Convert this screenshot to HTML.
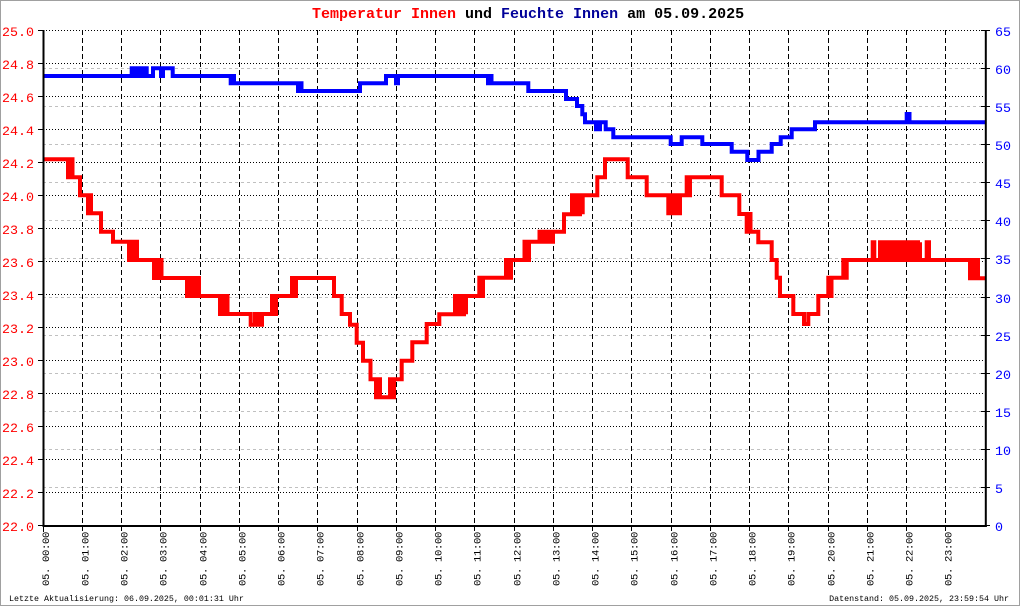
<!DOCTYPE html>
<html>
<head>
<meta charset="utf-8">
<style>
html,body{margin:0;padding:0;background:#fff;}
svg{display:block;}
text{font-family:"Liberation Mono","DejaVu Sans Mono",monospace;}
</style>
</head>
<body>
<svg width="1020" height="606" viewBox="0 0 1020 606" xmlns="http://www.w3.org/2000/svg">
<rect x="0" y="0" width="1020" height="606" fill="#fff"/>
<rect x="0.5" y="0.5" width="1019" height="605" fill="none" stroke="#a0a0a0" stroke-width="1"/>

<!-- humidity gray grid -->
<g stroke="#c0c0c0" stroke-width="1" stroke-dasharray="3,3">
<line x1="43" y1="487.5" x2="985" y2="487.5"/>
<line x1="43" y1="449.5" x2="985" y2="449.5"/>
<line x1="43" y1="411.5" x2="985" y2="411.5"/>
<line x1="43" y1="373.5" x2="985" y2="373.5"/>
<line x1="43" y1="335.5" x2="985" y2="335.5"/>
<line x1="43" y1="297.5" x2="985" y2="297.5"/>
<line x1="43" y1="258.5" x2="985" y2="258.5"/>
<line x1="43" y1="220.5" x2="985" y2="220.5"/>
<line x1="43" y1="182.5" x2="985" y2="182.5"/>
<line x1="43" y1="144.5" x2="985" y2="144.5"/>
<line x1="43" y1="106.5" x2="985" y2="106.5"/>
<line x1="43" y1="68.5" x2="985" y2="68.5"/>
</g>

<!-- temperature black dotted grid -->
<g stroke="#000" stroke-width="1" stroke-dasharray="1,2">
<line x1="43" y1="492.5" x2="985" y2="492.5"/>
<line x1="43" y1="459.5" x2="985" y2="459.5"/>
<line x1="43" y1="426.5" x2="985" y2="426.5"/>
<line x1="43" y1="393.5" x2="985" y2="393.5"/>
<line x1="43" y1="360.5" x2="985" y2="360.5"/>
<line x1="43" y1="327.5" x2="985" y2="327.5"/>
<line x1="43" y1="294.5" x2="985" y2="294.5"/>
<line x1="43" y1="261.5" x2="985" y2="261.5"/>
<line x1="43" y1="228.5" x2="985" y2="228.5"/>
<line x1="43" y1="195.5" x2="985" y2="195.5"/>
<line x1="43" y1="162.5" x2="985" y2="162.5"/>
<line x1="43" y1="129.5" x2="985" y2="129.5"/>
<line x1="43" y1="96.5" x2="985" y2="96.5"/>
<line x1="43" y1="63.5" x2="985" y2="63.5"/>
<line x1="43" y1="30.5" x2="985" y2="30.5"/>
</g>

<!-- hour vertical dashed grid -->
<g stroke="#000" stroke-width="1" stroke-dasharray="5,3">
<line x1="82.5" y1="30" x2="82.5" y2="531"/>
<line x1="121.5" y1="30" x2="121.5" y2="531"/>
<line x1="160.5" y1="30" x2="160.5" y2="531"/>
<line x1="200.5" y1="30" x2="200.5" y2="531"/>
<line x1="239.5" y1="30" x2="239.5" y2="531"/>
<line x1="278.5" y1="30" x2="278.5" y2="531"/>
<line x1="317.5" y1="30" x2="317.5" y2="531"/>
<line x1="357.5" y1="30" x2="357.5" y2="531"/>
<line x1="396.5" y1="30" x2="396.5" y2="531"/>
<line x1="435.5" y1="30" x2="435.5" y2="531"/>
<line x1="474.5" y1="30" x2="474.5" y2="531"/>
<line x1="514.5" y1="30" x2="514.5" y2="531"/>
<line x1="553.5" y1="30" x2="553.5" y2="531"/>
<line x1="592.5" y1="30" x2="592.5" y2="531"/>
<line x1="631.5" y1="30" x2="631.5" y2="531"/>
<line x1="671.5" y1="30" x2="671.5" y2="531"/>
<line x1="710.5" y1="30" x2="710.5" y2="531"/>
<line x1="749.5" y1="30" x2="749.5" y2="531"/>
<line x1="788.5" y1="30" x2="788.5" y2="531"/>
<line x1="828.5" y1="30" x2="828.5" y2="531"/>
<line x1="867.5" y1="30" x2="867.5" y2="531"/>
<line x1="906.5" y1="30" x2="906.5" y2="531"/>
<line x1="945.5" y1="30" x2="945.5" y2="531"/>
</g>

<!-- bottom tick at 0h -->
<line x1="43.5" y1="526" x2="43.5" y2="532" stroke="#000" stroke-width="1"/>

<!-- left ticks -->
<g stroke="#000" stroke-width="1">
<line x1="38" y1="525.5" x2="43" y2="525.5"/>
<line x1="38" y1="492.5" x2="43" y2="492.5"/>
<line x1="38" y1="459.5" x2="43" y2="459.5"/>
<line x1="38" y1="426.5" x2="43" y2="426.5"/>
<line x1="38" y1="393.5" x2="43" y2="393.5"/>
<line x1="38" y1="360.5" x2="43" y2="360.5"/>
<line x1="38" y1="327.5" x2="43" y2="327.5"/>
<line x1="38" y1="294.5" x2="43" y2="294.5"/>
<line x1="38" y1="261.5" x2="43" y2="261.5"/>
<line x1="38" y1="228.5" x2="43" y2="228.5"/>
<line x1="38" y1="195.5" x2="43" y2="195.5"/>
<line x1="38" y1="162.5" x2="43" y2="162.5"/>
<line x1="38" y1="129.5" x2="43" y2="129.5"/>
<line x1="38" y1="96.5" x2="43" y2="96.5"/>
<line x1="38" y1="63.5" x2="43" y2="63.5"/>
<line x1="38" y1="30.5" x2="43" y2="30.5"/>
</g>
<!-- right ticks -->
<g stroke="#000" stroke-width="1">
<line x1="981" y1="525.5" x2="990" y2="525.5"/>
<line x1="981" y1="487.5" x2="990" y2="487.5"/>
<line x1="981" y1="449.5" x2="990" y2="449.5"/>
<line x1="981" y1="411.5" x2="990" y2="411.5"/>
<line x1="981" y1="373.5" x2="990" y2="373.5"/>
<line x1="981" y1="335.5" x2="990" y2="335.5"/>
<line x1="981" y1="297.5" x2="990" y2="297.5"/>
<line x1="981" y1="258.5" x2="990" y2="258.5"/>
<line x1="981" y1="220.5" x2="990" y2="220.5"/>
<line x1="981" y1="182.5" x2="990" y2="182.5"/>
<line x1="981" y1="144.5" x2="990" y2="144.5"/>
<line x1="981" y1="106.5" x2="990" y2="106.5"/>
<line x1="981" y1="68.5" x2="990" y2="68.5"/>
<line x1="981" y1="30.5" x2="990" y2="30.5"/>
</g>

<!-- data: humidity -->
<path fill="none" stroke="#0000ff" stroke-width="4" stroke-linejoin="miter" d="M43,76 H131.7 V68.3 H134 V76 H136 V68.3 H138 V76 H140 V68.3 H142 V76 H144 V68.3 H146.7 V76 H153 V68.3 H161 V76 H163 V68.3 H172.7 V76 H230.7 V83.3 H232.5 V76 H234 V83.3 H298 V91 H300 V83.3 H301.5 V91 H360 V83.3 H386 V76 H396 V83.3 H398 V76 H488 V83.3 H490 V76 H491.5 V83.3 H528.3 V91 H566 V99 H577 V106 H582.3 V114.3 H585 V122.3 H596 V129.3 H600 V122.3 H605.7 V129.3 H613.3 V137.3 H670.7 V144 H681.7 V137.3 H702.3 V144 H731.7 V151.7 H747.3 V160 H758.5 V151.7 H771.7 V144 H780.7 V137.3 H791.7 V129.3 H815 V122.3 H906.7 V114 H909.5 V122.3 H985"/>

<!-- data: temperature -->
<path fill="none" stroke="#ff0000" stroke-width="4" stroke-linejoin="miter" d="M43,159.3 H68 V177.3 H70 V159.3 H72.5 V177.3 H80 V195.3 H88 V213.3 H89.5 V195.3 H91 V213.3 H101 V231.7 H113 V241.7 H129 V260 H131 V241.7 H133 V260 H135 V241.7 H137 V260 H154 V278 H156 V260 H158 V278 H160 V260 H161.5 V278 H187 V296 H188.5 V278 H190 V296 H194 V278 H196 V296 H197.5 V278 H199 V296 H220 V314 H222 V296 H224 V314 H226 V296 H227.5 V314 H250.7 V324.7 H255 V314 H258 V324.7 H262 V314 H272 V296 H274 V314 H276 V296 H292 V278 H294 V296 H296 V278 H334 V296 H341.7 V314 H350 V324.7 H356.7 V342.7 H363 V360.7 H370.5 V379.3 H376 V397.3 H378 V379.3 H380 V397.3 H390 V379.3 H392 V397.3 H394 V379.3 H401.7 V360.7 H412.3 V342.3 H426.7 V324 H439.3 V314.3 H455 V296 H457 V314.3 H459 V296 H461 V314.3 H464 V296 H466 V314.3 V296 H479.3 V277.7 H481 V296 H483 V277.7 H506 V260 H508 V277.7 H511 V260 H524.5 V241.7 H526.5 V260 H529 V241.7 H539.5 V231.7 H541.5 V241.7 H544 V231.7 H546 V241.7 H548 V231.7 H550 V241.7 H553 V231.7 H564 V214.3 H572 V195.3 H574 V214.3 H576 V195.3 H578 V214.3 H580 V195.3 H582.7 V214.3 V195.3 H597.3 V177.3 H605 V159.3 H627.7 V177.3 H646.7 V195.3 H668.3 V213.3 H670 V195.3 H672 V213.3 H675 V195.3 H677 V213.3 H680 V195.3 H686.7 V177.3 H688.5 V195.3 H690 V177.3 H721.7 V195.3 H739.3 V214 H746.7 V231.7 H748.5 V214 H750.5 V231.7 H758.3 V242.3 H771.7 V260 H776.7 V277.7 H780 V296 H793.3 V314 H804 V324 H808.3 V314 H818.3 V296 H828.3 V277.7 H830 V296 H831.5 V277.7 H843.3 V260 H845 V277.7 H846.7 V260 H872.7 V242.3 H874.3 V260 H880 V242.3 H882 V260 H884 V242.3 H886 V260 H888 V242.3 H890 V260 H892 V242.3 H894 V260 H896 V242.3 H898 V260 H900 V242.3 H902 V260 H904 V242.3 H906 V260 H908 V242.3 H910 V260 H912 V242.3 H914 V260 H916 V242.3 H918 V260 H920 V242.3 V260 H926.7 V242.3 H929 V260 H970 V278.3 H972 V260 H974 V278.3 H976 V260 H978 V278.3 H986"/>

<!-- axes -->
<line x1="43.5" y1="30" x2="43.5" y2="527" stroke="#000" stroke-width="2"/>
<line x1="985.8" y1="30" x2="985.8" y2="527" stroke="#000" stroke-width="2"/>
<line x1="43" y1="526" x2="986.8" y2="526" stroke="#000" stroke-width="2"/>

<!-- title -->
<text x="312" y="18" font-size="15" font-weight="bold" xml:space="preserve"><tspan fill="#ff0000">Temperatur Innen</tspan><tspan fill="#000"> und </tspan><tspan fill="#000099">Feuchte Innen</tspan><tspan fill="#000"> am 05.09.2025</tspan></text>

<!-- left labels -->
<g fill="#ff0000" font-size="13.33" text-anchor="end">
<text x="34" y="531">22.0</text>
<text x="34" y="498">22.2</text>
<text x="34" y="465">22.4</text>
<text x="34" y="432">22.6</text>
<text x="34" y="399">22.8</text>
<text x="34" y="366">23.0</text>
<text x="34" y="333">23.2</text>
<text x="34" y="300">23.4</text>
<text x="34" y="267">23.6</text>
<text x="34" y="234">23.8</text>
<text x="34" y="201">24.0</text>
<text x="34" y="168">24.2</text>
<text x="34" y="135">24.4</text>
<text x="34" y="102">24.6</text>
<text x="34" y="69">24.8</text>
<text x="34" y="36">25.0</text>
</g>

<!-- right labels -->
<g fill="#0000ff" font-size="13.33">
<text x="995" y="531">0</text>
<text x="995" y="493">5</text>
<text x="995" y="455">10</text>
<text x="995" y="417">15</text>
<text x="995" y="379">20</text>
<text x="995" y="341">25</text>
<text x="995" y="303">30</text>
<text x="995" y="264">35</text>
<text x="995" y="226">40</text>
<text x="995" y="188">45</text>
<text x="995" y="150">50</text>
<text x="995" y="112">55</text>
<text x="995" y="74">60</text>
<text x="995" y="36">65</text>
</g>

<!-- x labels -->
<g fill="#000" font-size="10.5" letter-spacing="-0.3">
<text transform="translate(49,586) rotate(-90)">05. 00:00</text>
<text transform="translate(88.5,586) rotate(-90)">05. 01:00</text>
<text transform="translate(127.5,586) rotate(-90)">05. 02:00</text>
<text transform="translate(166.5,586) rotate(-90)">05. 03:00</text>
<text transform="translate(206.5,586) rotate(-90)">05. 04:00</text>
<text transform="translate(245.5,586) rotate(-90)">05. 05:00</text>
<text transform="translate(284.5,586) rotate(-90)">05. 06:00</text>
<text transform="translate(323.5,586) rotate(-90)">05. 07:00</text>
<text transform="translate(363.5,586) rotate(-90)">05. 08:00</text>
<text transform="translate(402.5,586) rotate(-90)">05. 09:00</text>
<text transform="translate(441.5,586) rotate(-90)">05. 10:00</text>
<text transform="translate(480.5,586) rotate(-90)">05. 11:00</text>
<text transform="translate(520.5,586) rotate(-90)">05. 12:00</text>
<text transform="translate(559.5,586) rotate(-90)">05. 13:00</text>
<text transform="translate(598.5,586) rotate(-90)">05. 14:00</text>
<text transform="translate(637.5,586) rotate(-90)">05. 15:00</text>
<text transform="translate(677.5,586) rotate(-90)">05. 16:00</text>
<text transform="translate(716.5,586) rotate(-90)">05. 17:00</text>
<text transform="translate(755.5,586) rotate(-90)">05. 18:00</text>
<text transform="translate(794.5,586) rotate(-90)">05. 19:00</text>
<text transform="translate(834.5,586) rotate(-90)">05. 20:00</text>
<text transform="translate(873.5,586) rotate(-90)">05. 21:00</text>
<text transform="translate(912.5,586) rotate(-90)">05. 22:00</text>
<text transform="translate(951.5,586) rotate(-90)">05. 23:00</text>
</g>

<!-- footer -->
<text x="9" y="601" font-size="8.33" fill="#000">Letzte Aktualisierung: 06.09.2025, 00:01:31 Uhr</text>
<text x="1009" y="601" font-size="8.33" fill="#000" text-anchor="end">Datenstand: 05.09.2025, 23:59:54 Uhr</text>
</svg>
</body>
</html>
